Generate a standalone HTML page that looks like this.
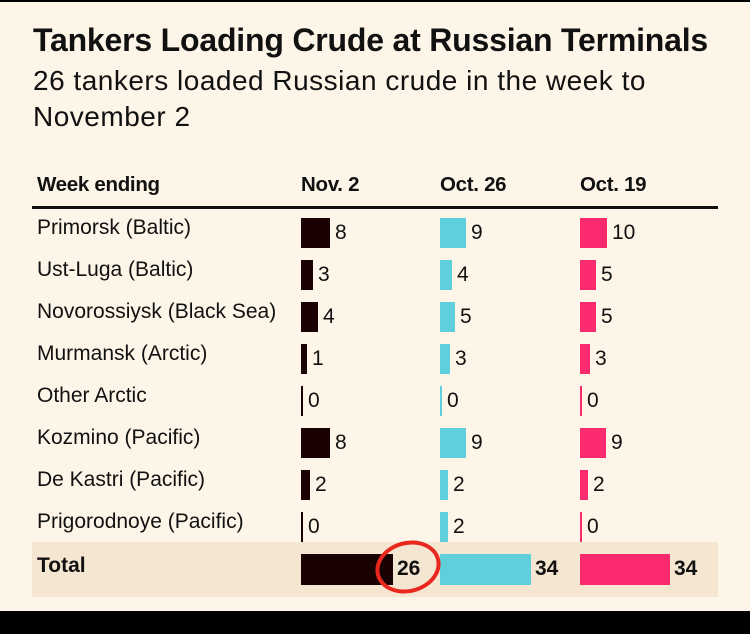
<!DOCTYPE html>
<html><head><style>
body{margin:0;width:750px;height:634px;background:#fdf5e8;position:relative;overflow:hidden;font-family:"Liberation Sans",sans-serif;color:#111}
.a{position:absolute;white-space:nowrap}
.t{left:33px;top:22px;font-size:32px;font-weight:bold;letter-spacing:-0.2px}
.s{left:33px;top:63px;font-size:28px;line-height:36px;letter-spacing:0.5px}
.h{font-size:20.5px;font-weight:bold;top:173px;letter-spacing:-0.3px}
.l{left:37px;font-size:21px}
.b{position:absolute}
.n{font-size:21px}
</style></head><body>
<div class="a" style="left:0;top:0;width:750px;height:2px;background:#000"></div>
<div class="a t">Tankers Loading Crude at Russian Terminals</div>
<div class="a s">26 tankers loaded Russian crude in the week to<br>November 2</div>
<div class="a h" style="left:37px">Week ending</div>
<div class="a h" style="left:301px">Nov. 2</div>
<div class="a h" style="left:440px">Oct. 26</div>
<div class="a h" style="left:580px">Oct. 19</div>
<div class="a" style="left:32px;top:206px;width:686px;height:3px;background:#111"></div>
<div class="a" style="left:32px;top:542px;width:686px;height:55px;background:#f5e6d2"></div>
<div id="rows"></div>
<div class="a" style="left:0;top:611px;width:750px;height:23px;background:#000"></div>
<script>
var names=["Primorsk (Baltic)","Ust-Luga (Baltic)","Novorossiysk (Black Sea)","Murmansk (Arctic)","Other Arctic","Kozmino (Pacific)","De Kastri (Pacific)","Prigorodnoye (Pacific)"];
var v=[[8,9,10],[3,4,5],[4,5,5],[1,3,3],[0,0,0],[8,9,9],[2,2,2],[0,2,0]];
var w=[[29,26,27],[12,12,16],[17,15,16],[6,10,10],[2,2,2],[29,26,26],[9,8,8],[2,8,2]];
var xs=[301,440,580],cols=["#1a0203","#5ecfdb","#fb2a6e"];
var h="";
for(var i=0;i<8;i++){var y=218+i*42;
h+='<div class="a l" style="top:'+(y-2)+'px">'+names[i]+'</div>';
for(var j=0;j<3;j++){h+='<div class="b" style="left:'+xs[j]+'px;top:'+y+'px;width:'+w[i][j]+'px;height:30px;background:'+cols[j]+'"></div>';
h+='<div class="a n" style="left:'+(xs[j]+w[i][j]+5)+'px;top:'+(y+3)+'px">'+v[i][j]+'</div>';}}
h+='<div class="a l" style="top:554px;font-weight:bold">Total</div>';
var tw=[92,91,90],tv=[26,34,34];
for(var j=0;j<3;j++){h+='<div class="b" style="left:'+xs[j]+'px;top:554px;width:'+tw[j]+'px;height:31px;background:'+cols[j]+'"></div>';
h+='<div class="a n" style="left:'+(xs[j]+tw[j]+4)+'px;top:557px;font-weight:bold">'+tv[j]+'</div>';}
h+='<div class="b" style="left:375px;top:541px;width:66px;height:52px;border:4px solid #e8281e;border-radius:50%;box-sizing:border-box;transform:rotate(-15deg)"></div>';
document.getElementById("rows").innerHTML=h;
</script>
</body></html>
